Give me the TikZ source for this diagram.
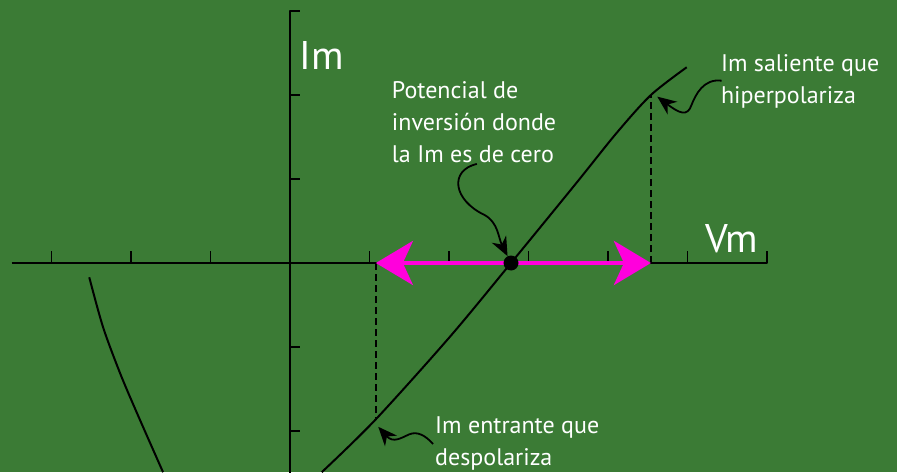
\documentclass[tikz,border=0pt]{standalone}
\usepackage{fontspec}
\setmainfont{PT Sans}
\usetikzlibrary{arrows.meta}
\definecolor{fondo}{RGB}{59,123,53}
\definecolor{magenta}{RGB}{255,0,220}
\tikzset{
	rotulo/.style={white,inner sep=0pt,align=left,font=\fontsize{24}{32}\selectfont},
	eje/.style={white,inner sep=0pt,font=\fontsize{40}{40}\selectfont},
	flecha/.style={line width=1.8pt,-{Stealth[length=19pt,width=16pt,inset=6pt]}},
	punto/.style={circle,fill=black,inner sep=0pt,minimum size=15pt}
}
\begin{document}
\begin{tikzpicture}[line join = round, x=79.5pt, y=84pt]
	\fill[fondo] (-3.6478,-2.4881) rectangle (7.6352,3.1310);
	\useasboundingbox (-3.6478,-2.4881) rectangle (7.6352,3.1310);
	% ejes
	\draw[line width=2.2pt] (-3.5,0) -- (6,0) -- ++(0,12pt);
	\draw[line width=2.2pt] (0,-2.6) -- (0,3) -- ++(10pt,0);
	\foreach \i in {-3,-2,-1,1,2,3,4,5}\draw[line width=1.8pt] (\i,0)--++(0,12pt);
	\foreach \j in {-2,-1,1,2}\draw[line width=1.8pt] (0,\j)--++(10pt,0);
	\node[eje,anchor=base west] (im) at (0.12,2.30) {Im};
	\node[eje,anchor=base west] (vm) at (5.22,0.13) {Vm};
	\path
	(1.08,0) coordinate(A)
	(4.54,0) coordinate(B)
	(1.08,-1.84) coordinate(C)
	(4.54,2.0) coordinate(D)
	;
	% curvas
	\draw[line width=2pt] plot[smooth] coordinates {(0.40,-2.49) (1.07,-1.87) (2.01,-0.88) (2.78,0) (3.6,0.95) (4.11,1.55) (4.54,2.0) (4.99,2.33)};
	\draw[line width=2pt] plot[smooth] coordinates {(-2.525,-0.17) (-2.352,-0.762) (-2.138,-1.31) (-1.925,-1.786) (-1.597,-2.49)};
	\draw[dashed,line width=1.8pt,dash pattern=on 7pt off 4pt] (A)--(C) (B)--(D);
	\draw[magenta,line width=4.6pt,{Stealth[length=37pt,width=44pt,inset=10pt]}-{Stealth[length=37pt,width=44pt,inset=10pt]}] (A)--(B);
	\node[punto] (rev) at (2.78,0) {};
	% textos
	\node[rotulo,anchor=base west] (pot) at (1.28,1.202) {Potencial de\\inversión donde\\la Im es de cero};
	\node[rotulo,anchor=base west] (sal) at (5.42,1.893) {Im saliente que\\hiperpolariza};
	\node[rotulo,anchor=base west] (ent) at (1.824,-2.405) {Im entrante que\\despolariza};
	\path
	(2.35,1.18) coordinate(P1)
	(5.43,2.17) coordinate(S1)
	(4.62,1.98) coordinate(S2)
	(1.80,-2.155) coordinate(E1)
	(1.11,-1.95) coordinate(E2)
	;
	\draw[flecha] (P1) .. controls (2.0,1.1) and (2.05,0.75) .. (2.45,0.57) .. controls (2.62,0.48) and (2.62,0.3) .. (rev);
	\draw[flecha] (S1) .. controls (5.2,2.2) and (5.1,2.0) .. (5.05,1.88) .. controls (5.0,1.74) and (4.9,1.78) .. (S2);
	\draw[flecha] (E1) .. controls (1.7,-2.05) and (1.6,-2.0) .. (1.5,-2.04) .. controls (1.4,-2.08) and (1.3,-2.15) .. (E2);
\end{tikzpicture}
\end{document}
